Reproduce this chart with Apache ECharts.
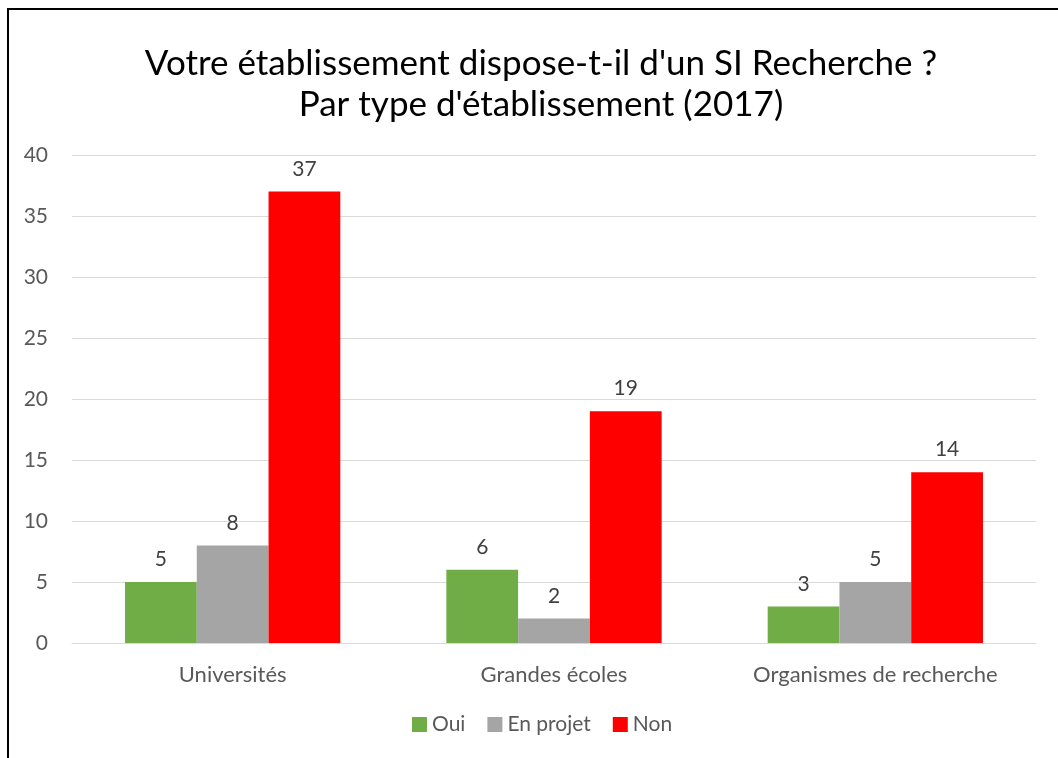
<!DOCTYPE html>
<html>
<head>
<meta charset="utf-8">
<script src="https://cdn.jsdelivr.net/npm/echarts@6/dist/echarts.min.js"></script>
<style>
  html, body { margin: 0; padding: 0; background: #fff; }
  #chart { width: 1058px; height: 758px; }
</style>
</head>
<body>
<div id="chart"></div>
<script>
// données
var categories = ['Universités', 'Grandes écoles', 'Organismes de recherche'];
var oui = [5, 6, 3];
var enProjet = [8, 2, 5];
var non = [37, 19, 14];
var yTicks = [0, 5, 10, 15, 20, 25, 30, 35, 40];

var font = 'Lato, "Open Sans", sans-serif';
var labelColor = '#595959';

var myChart = echarts.init(document.getElementById('chart'));

function barSerie(name, data, color) {
    return {
        name: name,
        type: 'bar',
        data: data,
        barGap: '0%',
        barCategoryGap: '33%',
        itemStyle: { color: color },
        label: {
            show: true,
            position: 'top',
            distance: 12,
            color: '#404040',
            fontSize: 21,
            fontFamily: font
        }
    };
}

var option = {
    animation: false,
    title: {
        text: "Votre établissement dispose-t-il d'un SI Recherche ?\nPar type d'établissement (2017)",
        left: 541,
        top: 43,
        padding: 0,
        textAlign: 'center',
        textStyle: {
            fontFamily: font,
            fontWeight: 'normal',
            fontSize: 35,
            lineHeight: 41,
            color: '#000'
        }
    },
    graphic: [{
        type: 'rect',
        shape: { x: 8, y: 9, width: 1070, height: 780 },
        style: { fill: 'none', stroke: '#000', lineWidth: 2 },
        silent: true
    }],
    legend: {
        bottom: 18,
        left: 407,
        itemWidth: 15,
        itemHeight: 15,
        itemGap: 22,
        icon: 'rect',
        textStyle: { fontFamily: font, fontSize: 21, color: labelColor }
    },
    grid: {
        left: 72,
        right: 22,
        top: 155,
        bottom: 115,
        containLabel: false
    },
    xAxis: {
        type: 'category',
        data: categories,
        axisTick: { show: false },
        axisLine: { lineStyle: { color: '#D9D9D9', width: 1 } },
        axisLabel: { fontFamily: font, fontSize: 22, color: labelColor, margin: 21 }
    },
    yAxis: {
        type: 'value',
        min: yTicks[0],
        max: yTicks[yTicks.length - 1],
        interval: 5,
        axisLine: { show: false },
        axisTick: { show: false },
        axisLabel: { fontFamily: font, fontSize: 21, color: labelColor, margin: 24 },
        splitLine: { lineStyle: { color: '#D9D9D9', width: 1 } }
    },
    series: [
        barSerie('Oui', oui, '#70AD47'),
        barSerie('En projet', enProjet, '#A5A5A5'),
        barSerie('Non', non, '#FF0000')
    ]
};

myChart.setOption(option);
</script>
</body>
</html>
